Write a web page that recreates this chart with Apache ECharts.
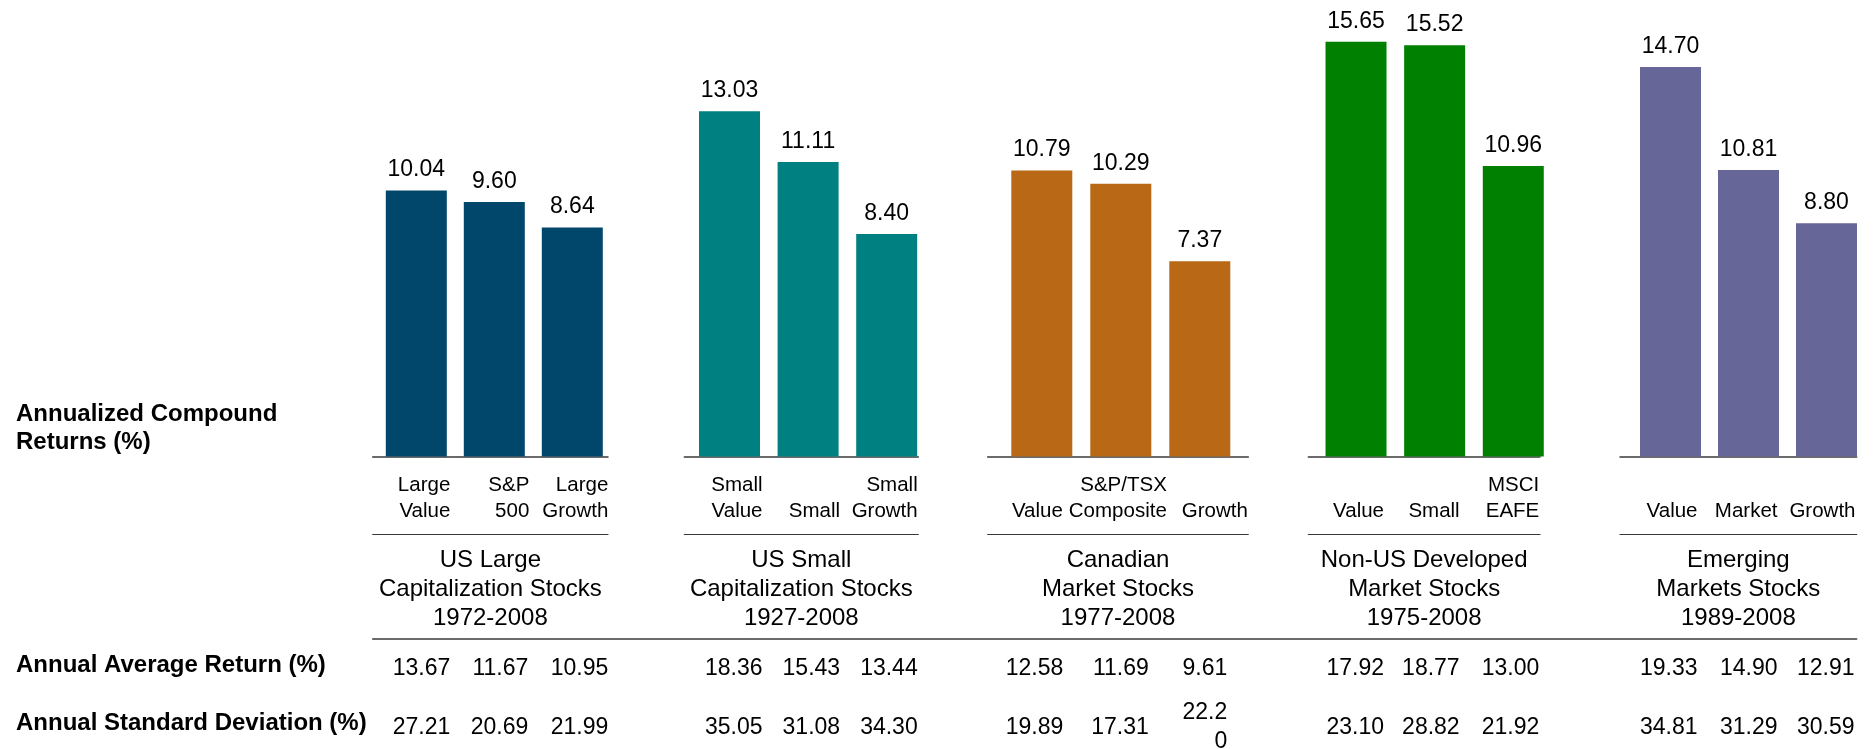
<!DOCTYPE html>
<html>
<head>
<meta charset="utf-8">
<script src="https://cdn.jsdelivr.net/npm/echarts@6/dist/echarts.min.js"></script>
<style>
html,body{margin:0;padding:0;background:#fff;}
#chart{width:1875px;height:749px;}
</style>
</head>
<body>
<div id="chart"></div>
<script>
// ---------------- data ----------------
const groupTitles = [
  'US Large\nCapitalization Stocks\n1972-2008',
  'US Small\nCapitalization Stocks\n1927-2008',
  'Canadian\nMarket Stocks\n1977-2008',
  'Non-US Developed\nMarket Stocks\n1975-2008',
  'Emerging\nMarkets Stocks\n1989-2008'
];
const categories = [
  ['Large\nValue', 'S&P\n500', 'Large\nGrowth'],
  ['Small\nValue', 'Small', 'Small\nGrowth'],
  ['Value', 'S&P/TSX\nComposite', 'Growth'],
  ['Value', 'Small', 'MSCI\nEAFE'],
  ['Value', 'Market', 'Growth']
];
const compoundReturns = [
  [10.04, 9.60, 8.64],
  [13.03, 11.11, 8.40],
  [10.79, 10.29, 7.37],
  [15.65, 15.52, 10.96],
  [14.70, 10.81, 8.80]
];
const avgReturns = [
  [13.67, 11.67, 10.95],
  [18.36, 15.43, 13.44],
  [12.58, 11.69, 9.61],
  [17.92, 18.77, 13.00],
  [19.33, 14.90, 12.91]
];
const stdDevs = [
  [27.21, 20.69, 21.99],
  [35.05, 31.08, 34.30],
  [19.89, 17.31, 22.20],
  [23.10, 28.82, 21.92],
  [34.81, 31.29, 30.59]
];
const rowLabels = [
  'Annualized Compound\nReturns (%)',
  'Annual Average Return (%)',
  'Annual Standard Deviation (%)'
];

// ---------------- style / layout ----------------
const FONT = "'Liberation Sans', Arial, Helvetica, sans-serif";
const colors = ['#01476c', '#008080', '#b96815', '#008000', '#666699'];
const barArea  = [[377.3, 611.3], [690.2, 926.0], [1002.3, 1239.3], [1316.7, 1552.6], [1631.5, 1865.5]];
const lineArea = [[372.7, 608], [684.3, 918.3], [987.7, 1248.3], [1308.3, 1540], [1620, 1856.7]];
// distance from bar centre to right edge of the right-aligned texts
const catEdge = [[34, 35, 36], [33, 32, 31], [21, 46, 48], [28, 25, 26], [27, 29, 29]];
const numEdge = [[34, 34, 36], [33, 32, 31], [21.5, 28, 27.5], [28, 25, 26], [27, 29, 28]];
// narrow table cells (text wraps)
const narrowCell = [[0, 0, 0], [0, 0, 0], [0, 0, 50], [0, 0, 0], [0, 0, 0]];
const TOP = 6, BASE = 456.5, YMAX = 17;
const CAT_Y = 498.2, SEP_Y = 534.3, LONG_Y = 638.5, AVG_Y = 669, STD_Y = 727.2;
const LINE_COLOR = '#3a3a3a';
const NUM_FS = 23, CAT_FS = 20.5, TITLE_FS = 24, ROW_FS = 24;

const grid = [], xAxis = [], yAxis = [], series = [];
function addGrid(l, r, bottomY) {
  grid.push({ left: l, width: r - l, top: TOP, height: bottomY - TOP, containLabel: false, outerBoundsMode: 'none' });
  const gi = grid.length - 1;
  yAxis.push({ gridIndex: gi, type: 'value', min: 0, max: YMAX, show: false });
  return gi;
}
function lineAxis(gi, width, extra) {
  return Object.assign({
    gridIndex: gi, type: 'category', data: [''],
    axisLine: { show: true, lineStyle: { color: LINE_COLOR, width: width } },
    axisTick: { show: false }, axisLabel: { show: false }, splitLine: { show: false }
  }, extra || {});
}
function itemStyle(edge, fontSize, lineHeight, cellWidth) {
  const ts = {
    align: 'right', verticalAlign: 'middle', padding: [0, -edge, 0, 0],
    fontFamily: FONT, fontSize: fontSize, lineHeight: lineHeight, color: '#000'
  };
  if (cellWidth) { ts.width = cellWidth; ts.overflow = 'breakAll'; }
  return ts;
}

groupTitles.forEach((title, g) => {
  // bars + category labels
  const bg = addGrid(barArea[g][0], barArea[g][1], BASE);
  const catIdx = xAxis.length;
  xAxis.push({
    gridIndex: bg, type: 'category',
    data: categories[g].map((c, i) => ({
      value: c.indexOf('\n') >= 0 ? c : '\n' + c,
      textStyle: itemStyle(catEdge[g][i], CAT_FS, 25.6)
    })),
    axisLine: { show: false }, axisTick: { show: false }, splitLine: { show: false },
    axisLabel: { interval: 0, margin: CAT_Y - BASE, align: 'right', verticalAlign: 'middle',
      fontFamily: FONT, fontSize: CAT_FS, lineHeight: 25.6, color: '#000' }
  });
  series.push({
    type: 'bar', xAxisIndex: catIdx, yAxisIndex: bg,
    data: compoundReturns[g], barWidth: 61,
    itemStyle: { color: colors[g] },
    label: {
      show: true, position: 'top', distance: 9,
      fontFamily: FONT, fontSize: NUM_FS, color: '#000',
      formatter: p => p.value.toFixed(2)
    }
  });
  // table rows
  [[avgReturns, AVG_Y], [stdDevs, STD_Y]].forEach(([arr, y]) => {
    const tg = addGrid(barArea[g][0], barArea[g][1], y);
    xAxis.push({
      gridIndex: tg, type: 'category',
      data: arr[g].map((v, i) => ({
        value: v.toFixed(2),
        textStyle: itemStyle(numEdge[g][i], NUM_FS, 29, narrowCell[g][i])
      })),
      axisLine: { show: false }, axisTick: { show: false }, splitLine: { show: false },
      axisLabel: { interval: 0, margin: 0, align: 'right', verticalAlign: 'middle',
        fontFamily: FONT, fontSize: NUM_FS, lineHeight: 29, color: '#000' }
    });
  });
  // baseline
  const lg = addGrid(lineArea[g][0], lineArea[g][1], BASE);
  xAxis.push(lineAxis(lg, 1.5));
  // separator + group title
  const sg = addGrid(lineArea[g][0], lineArea[g][1], SEP_Y);
  xAxis.push(lineAxis(sg, 1.2, {
    name: title, nameLocation: 'middle', nameGap: 11,
    nameTextStyle: { fontFamily: FONT, fontSize: TITLE_FS, lineHeight: 29.2, color: '#000', verticalAlign: 'top' }
  }));
});
// long line under the group titles
const fg = addGrid(lineArea[0][0], lineArea[4][1], LONG_Y);
xAxis.push(lineAxis(fg, 1.5));

const titleTops = [400, 651, 709];
const title = rowLabels.map((t, i) => ({
  text: t, left: 16, top: titleTops[i], padding: 0,
  textStyle: { fontFamily: FONT, fontWeight: 'bold', fontSize: ROW_FS, lineHeight: 28, color: '#000' }
}));

const chart = echarts.init(document.getElementById('chart'), null, { renderer: 'canvas' });
chart.setOption({
  backgroundColor: '#fff',
  animation: false,
  title, grid, xAxis, yAxis, series
});
</script>
</body>
</html>
